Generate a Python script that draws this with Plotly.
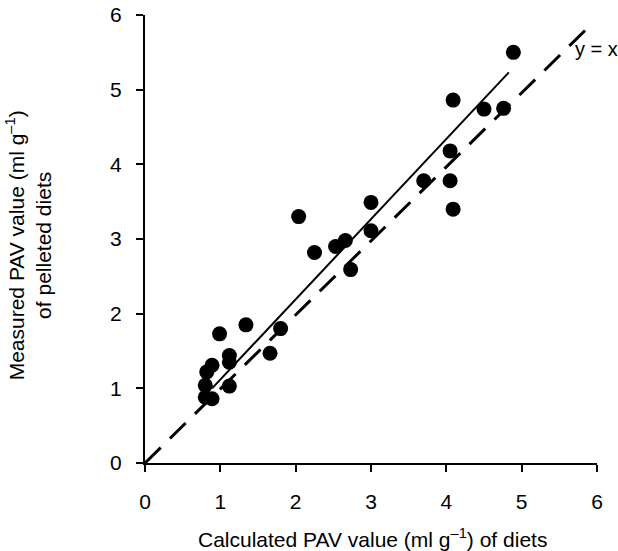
import plotly.graph_objects as go

# Data
calc_pav = [4.89, 4.09, 4.50, 4.76, 4.05, 3.70, 4.05, 4.09, 3.00, 3.00,
            2.04, 2.25, 2.53, 2.66, 2.73, 1.34, 1.80, 1.66, 0.99, 1.12,
            1.12, 1.12, 0.89, 0.82, 0.80, 0.80, 0.89]
meas_pav = [5.50, 4.86, 4.74, 4.75, 4.18, 3.78, 3.78, 3.40, 3.49, 3.11,
            3.30, 2.82, 2.90, 2.98, 2.59, 1.85, 1.80, 1.47, 1.73, 1.44,
            1.35, 1.03, 1.31, 1.22, 1.04, 0.88, 0.86]

fit_x = [0.89, 4.83]
fit_slope = 1.074
fit_intercept = 0.044
fit_y = [fit_slope * v + fit_intercept for v in fit_x]

identity_x = [0.0, 5.93]
identity_y = [0.0, 5.88]

tick_vals = [0, 1, 2, 3, 4, 5, 6]

FONT = "Liberation Sans, Arial, Helvetica, sans-serif"

fig = go.Figure()

fig.add_trace(go.Scatter(
    x=identity_x, y=identity_y, mode="lines",
    line=dict(color="black", width=3, dash="22px,13px"),
    hoverinfo="skip", showlegend=False))

fig.add_trace(go.Scatter(
    x=fit_x, y=fit_y, mode="lines",
    line=dict(color="black", width=2),
    hoverinfo="skip", showlegend=False))

fig.add_trace(go.Scatter(
    x=calc_pav, y=meas_pav, mode="markers",
    marker=dict(color="black", size=15, line=dict(width=0)),
    showlegend=False))

fig.add_annotation(x=5.68, y=5.55, xref="x", yref="y", text="y = x",
                   showarrow=False, xanchor="left", yanchor="middle",
                   font=dict(family=FONT, size=20, color="black"))

fig.add_annotation(x=0.503, y=-0.167, xref="paper", yref="paper",
                   text="Calculated PAV value (ml g<sup>–1</sup>) of diets",
                   showarrow=False, xanchor="center", yanchor="middle",
                   font=dict(family=FONT, size=21, color="black"))

fig.add_annotation(x=-0.257, y=0.4855, xref="paper", yref="paper",
                   text="Measured PAV value (ml g<sup>–1</sup>)<br>of pelleted diets",
                   showarrow=False, textangle=-90, xanchor="center", yanchor="middle",
                   font=dict(family=FONT, size=21, color="black"))

axis_common = dict(
    range=[0, 6], tickvals=tick_vals, ticks="outside", ticklen=7,
    tickwidth=2, tickcolor="black", showline=True, linecolor="black",
    linewidth=2, showgrid=False, zeroline=False, automargin=False,
    tickfont=dict(family=FONT, size=21, color="black"),
)

fig.update_xaxes(**axis_common, ticklabelstandoff=12)
fig.update_yaxes(**axis_common, ticklabelstandoff=10)

fig.update_layout(
    width=618, height=551,
    margin=dict(l=145, r=21, t=15, b=88),
    plot_bgcolor="white", paper_bgcolor="white",
    font=dict(family=FONT, color="black"),
)

fig.write_html("out.html")
